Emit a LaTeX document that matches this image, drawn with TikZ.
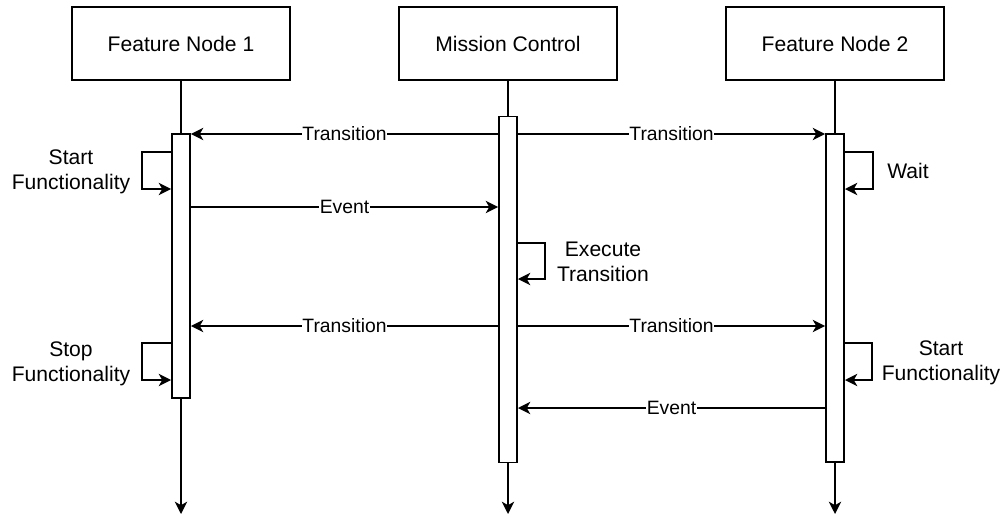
\documentclass[tikz,border=0pt]{standalone}
\usepackage{fontspec}
\setmainfont{Liberation Sans}
\usetikzlibrary{arrows.meta,positioning}

\begin{document}
\begin{tikzpicture}[x=0.2mm, y=-0.2mm, line width=1.1pt,
    actor/.style={draw, minimum width=43.6mm, minimum height=14.6mm,
                  font=\fontsize{12}{14}\selectfont, inner sep=0pt},
    bar/.style={draw, fill=white, minimum width=3.6mm, inner sep=0pt},
    msg/.style={-{Stealth[length=7pt, width=7pt, inset=2pt]}},
    lbl/.style={midway, fill=white, inner sep=0.5pt,
                font=\fontsize{11}{13}\selectfont},
    note/.style={align=center, font=\fontsize{12}{14}\selectfont}
  ]
    \useasboundingbox (0,0) rectangle (1005,517);

    % Participants
    \node[actor] (fn1) at (181,43.5) {Feature Node 1};
    \node[actor] (mc)  at (508,43.5) {Mission Control};
    \node[actor] (fn2) at (835,43.5) {Feature Node 2};

    % Message rows
    \coordinate (r1) at (0,134);
    \coordinate (r2) at (0,207);
    \coordinate (r3) at (0,326);
    \coordinate (r4) at (0,408);

    % Activation bars
    \node[bar, minimum height=52.8mm] (bar1) at (181,266) {};
    \node[bar, minimum height=69.2mm] (bar2) at (508,289.5) {};
    \node[bar, minimum height=65.6mm] (bar3) at (835,298) {};

    % Lifelines
    \coordinate (end1) at (181,514);
    \coordinate (end2) at (508,514);
    \coordinate (end3) at (835,514);
    \draw (fn1) -- (bar1);
    \draw (mc) -- (bar2);
    \draw (fn2) -- (bar3);
    \draw[msg] (bar1) -- (end1);
    \draw[msg] (bar2) -- (end2);
    \draw[msg] (bar3) -- (end3);

    % Messages
    \draw[msg] (bar2.west |- r1) -- (bar1.east |- r1) node[lbl] {Transition};
    \draw[msg] (bar2.east |- r1) -- (bar3.west |- r1) node[lbl] {Transition};
    \draw[msg] (bar1.east |- r2) -- (bar2.west |- r2) node[lbl] {Event};
    \draw[msg] (bar2.west |- r3) -- (bar1.east |- r3) node[lbl] {Transition};
    \draw[msg] (bar2.east |- r3) -- (bar3.west |- r3) node[lbl] {Transition};
    \draw[msg] (bar3.west |- r4) -- (bar2.east |- r4) node[lbl] {Event};

    % Self calls
    \coordinate (s1) at (0,152);
    \coordinate (s1e) at (0,189);
    \coordinate (s2) at (0,243);
    \coordinate (s2e) at (0,279);
    \coordinate (s3) at (0,343);
    \coordinate (s3e) at (0,380);
    \draw[msg] (bar1.west |- s1) -- ++(-29,0) |- (bar1.west |- s1e);
    \draw[msg] (bar3.east |- s1) -- ++(28,0) |- (bar3.east |- s1e);
    \draw[msg] (bar2.east |- s2) -- ++(27,0) |- (bar2.east |- s2e);
    \draw[msg] (bar1.west |- s3) -- ++(-29,0) |- (bar1.west |- s3e);
    \draw[msg] (bar3.east |- s3) -- ++(27,0) |- (bar3.east |- s3e);

    \node[note] (startA) at (71,172) {Start\\Functionality};
    \node[note] (wait)   at (908,171) {Wait};
    \node[note] (exec)   at (603,262) {Execute\\Transition};
    \node[note] (stopA)  at (71,364) {Stop\\Functionality};
    \node[note] (startB) at (941,363) {Start\\Functionality};
\end{tikzpicture}
\end{document}
